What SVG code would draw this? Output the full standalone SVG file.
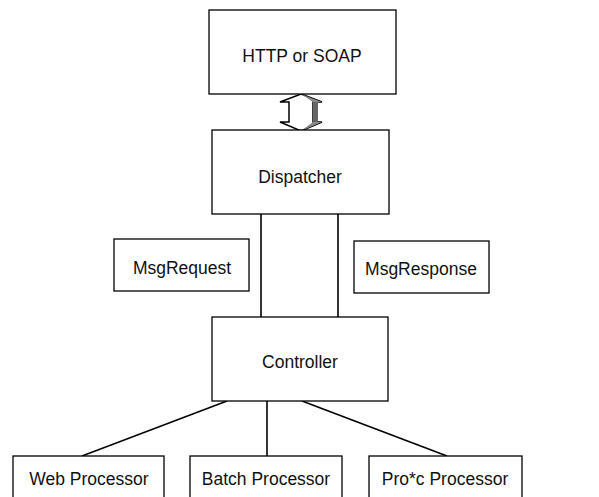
<svg xmlns="http://www.w3.org/2000/svg" width="599" height="497" viewBox="0 0 599 497">
<style>
.box{fill:#fff;stroke:#000;stroke-width:1.3}
.lbl{font-family:"Liberation Sans",Arial,sans-serif;font-size:17.5px;fill:#111;text-anchor:middle}
.con{stroke:#000;stroke-width:1.6;fill:none}
</style>
<rect width="599" height="497" fill="#fff"/>
<g id="connectors">
<line class="con" x1="261" y1="214" x2="261" y2="317"/>
<line class="con" x1="338" y1="214" x2="338" y2="317"/>
<line class="con" x1="227" y1="401" x2="82" y2="456"/>
<line class="con" x1="267" y1="401" x2="267" y2="456"/>
<line class="con" x1="302" y1="401" x2="447" y2="456"/>
<g id="double-arrow">
<polygon points="301,94 322,102 313,102 313,122 322,122 301,131 280,122 289,122 289,102 280,102" fill="#fff" stroke="#000" stroke-width="1.5"/>
<polygon points="313,102 318,102 318,122 313,122" fill="#666"/>
<polygon points="301,94 322,102 313,102" fill="#888"/>
<polygon points="313,122 322,122 301,131" fill="#888"/>
</g>
</g>
<g id="http"><rect class="box" x="209" y="10" width="187" height="84"/><text class="lbl" x="302" y="62">HTTP or SOAP</text></g>
<g id="dispatcher"><rect class="box" x="212" y="130" width="177" height="84" stroke-width="2"/><text class="lbl" x="300" y="183">Dispatcher</text></g>
<g id="msgrequest"><rect class="box" x="114" y="239" width="135" height="52"/><text class="lbl" x="182" y="274">MsgRequest</text></g>
<g id="msgresponse"><rect class="box" x="354" y="241" width="135" height="52"/><text class="lbl" x="421" y="275">MsgResponse</text></g>
<g id="controller"><rect class="box" x="212" y="317" width="176" height="84" stroke-width="2"/><text class="lbl" x="300" y="368">Controller</text></g>
<g id="web"><rect class="box" x="13" y="456" width="151" height="45"/><text class="lbl" x="89" y="485">Web Processor</text></g>
<g id="batch"><rect class="box" x="190" y="456" width="152" height="45"/><text class="lbl" x="266" y="485">Batch Processor</text></g>
<g id="proc"><rect class="box" x="369" y="456" width="153" height="45"/><text class="lbl" x="445" y="485">Pro*c Processor</text></g>
</svg>
